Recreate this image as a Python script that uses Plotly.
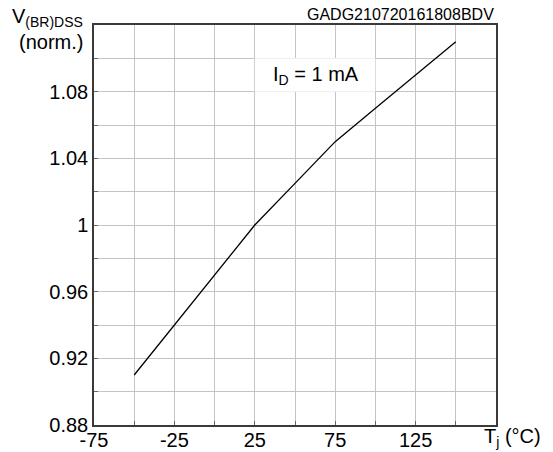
import plotly.graph_objects as go

# Data
tj_celsius = [-50, -25, 0, 25, 50, 75, 100, 125, 150]
vbr_norm = [0.91, 0.94, 0.97, 1.00, 1.025, 1.05, 1.07, 1.09, 1.11]

x_tick_vals = [-75, -50, -25, 0, 25, 50, 75, 100, 125, 150, 175]
x_tick_text = ["-75", "", "-25", "", "25", "", "75", "", "125", "", ""]
y_tick_vals = [0.88, 0.90, 0.92, 0.94, 0.96, 0.98, 1.00, 1.02, 1.04, 1.06, 1.08, 1.10, 1.12]
y_tick_text = ["0.88", "", "0.92", "", "0.96", "", "1", "", "1.04", "", "1.08", "", ""]

FONT = "Arial, Liberation Sans, sans-serif"
GRID = "#c4c4c4"
AXIS = "#3a3a3a"

fig = go.Figure()
fig.add_trace(go.Scatter(
    x=tj_celsius, y=vbr_norm, mode="lines",
    line=dict(color="black", width=1.3), showlegend=False, hoverinfo="skip",
))

fig.update_layout(
    width=553, height=452,
    margin=dict(l=94, r=57, t=25, b=27),
    paper_bgcolor="white", plot_bgcolor="white",
    font=dict(family=FONT, size=20, color="black"),
    xaxis=dict(
        range=[-75, 175], tickvals=x_tick_vals, ticktext=x_tick_text,
        showgrid=True, gridcolor=GRID, gridwidth=1,
        showline=True, linecolor=AXIS, linewidth=1.5, mirror=True,
        ticks="inside", ticklen=4, tickcolor="#666",
        zeroline=False, tickfont=dict(size=20), automargin=False,
        ticklabelstandoff=-4,
    ),
    yaxis=dict(
        range=[0.88, 1.12], tickvals=y_tick_vals, ticktext=y_tick_text,
        showgrid=True, gridcolor=GRID, gridwidth=1,
        showline=True, linecolor=AXIS, linewidth=1.5, mirror=True,
        ticks="inside", ticklen=4, tickcolor="#666",
        zeroline=False, tickfont=dict(size=20), automargin=False,
    ),
    shapes=[dict(
        type="rect", xref="x", yref="y", x0=25, x1=100, y0=1.08, y1=1.10,
        fillcolor="white", line=dict(width=0), layer="above",
    )],
    annotations=[
        dict(text="I<sub>D</sub> = 1 mA", xref="x", yref="y", x=35, y=1.09,
             xanchor="left", yanchor="middle", showarrow=False,
             font=dict(size=20)),
        dict(text="GADG210720161808BDV", xref="paper", yref="paper",
             x=1.0, y=1.0, xanchor="right", yanchor="bottom", showarrow=False,
             font=dict(size=16)),
        dict(text="V<sub>(BR)DSS</sub>", xref="paper", yref="paper",
             x=-0.022, y=1.018, xanchor="right", yanchor="middle", showarrow=False,
             font=dict(size=20)),
        dict(text="(norm.)", xref="paper", yref="paper",
             x=-0.022, y=0.958, xanchor="right", yanchor="middle", showarrow=False,
             font=dict(size=20)),
        dict(text="T<sub>j</sub> (°C)", xref="paper", yref="paper",
             x=1.118, y=0.004, xanchor="right", yanchor="top", showarrow=False,
             font=dict(size=20)),
    ],
)

fig.write_html("out.html", config={"displayModeBar": False},
               post_script="document.body.style.margin='0';")
